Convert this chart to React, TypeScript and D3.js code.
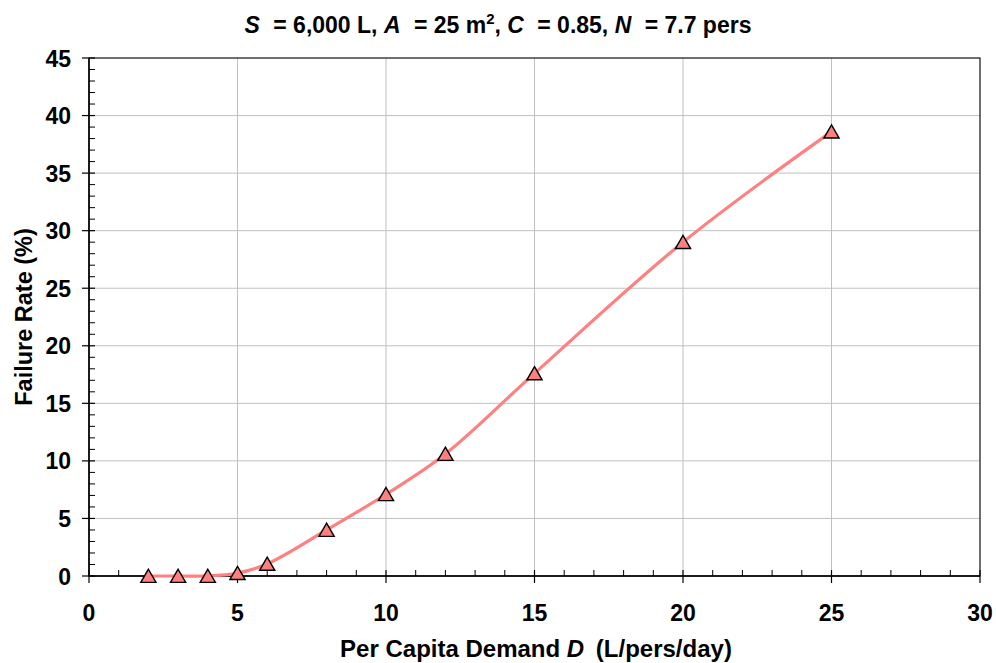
import React from "react";
import * as d3 from "d3";

const demand = [2, 3, 4, 5, 6, 8, 10, 12, 15, 20, 25];
const failureRate = [0, 0, 0, 0.25, 1.05, 4.0, 7.1, 10.6, 17.6, 29.0, 38.6];
const xTicks = [0, 5, 10, 15, 20, 25, 30];
const yTicks = [0, 5, 10, 15, 20, 25, 30, 35, 40, 45];

const W = 996, H = 663;
const M = { left: 89, right: 980, top: 58, bottom: 576 };
const FONT = "'Liberation Sans', Arial, sans-serif";

export default function App() {
  const x = d3.scaleLinear().domain([0, 30]).range([M.left, M.right]);
  const y = d3.scaleLinear().domain([0, 45]).range([M.bottom, M.top]);
  const line = d3.line<number>()
    .x((_, i) => x(demand[i]))
    .y((d) => y(d))
    .curve(d3.curveCatmullRom.alpha(0.5));
  const xMinor = d3.range(0, 31, 1).filter((v) => v % 5 !== 0);
  const yMinor = d3.range(0, 46, 1).filter((v) => v % 5 !== 0);
  const tri = d3.symbol().type(d3.symbolTriangle).size(100)();

  return (
    <div style={{ position: "absolute", left: 0, top: 0 }}>
      <svg width={W} height={H} style={{ display: "block", background: "#fff" }} fontFamily={FONT}>
        {xTicks.map((t) => (
          <line key={"gx" + t} x1={x(t)} x2={x(t)} y1={M.top} y2={M.bottom} stroke="#c0c0c0" strokeWidth={1} />
        ))}
        {yTicks.map((t) => (
          <line key={"gy" + t} x1={M.left} x2={M.right} y1={y(t)} y2={y(t)} stroke="#c0c0c0" strokeWidth={1} />
        ))}
        <rect x={M.left} y={M.top} width={M.right - M.left} height={M.bottom - M.top} fill="none" stroke="#000" strokeWidth={1} />
        {/* x axis */}
        <line x1={M.left} x2={M.right} y1={M.bottom} y2={M.bottom} stroke="#000" strokeWidth={1.5} />
        {xTicks.map((t) => (
          <line key={"xt" + t} x1={x(t)} x2={x(t)} y1={M.bottom - 6} y2={M.bottom + 7} stroke="#000" strokeWidth={1.2} />
        ))}
        {xMinor.map((t) => (
          <line key={"xm" + t} x1={x(t)} x2={x(t)} y1={M.bottom - 6} y2={M.bottom} stroke="#000" strokeWidth={1} />
        ))}
        {xTicks.map((t) => (
          <text key={"xl" + t} x={x(t)} y={621} textAnchor="middle" fontSize={23} fontWeight="bold">{t}</text>
        ))}
        {/* y axis */}
        <line x1={M.left} x2={M.left} y1={M.top} y2={M.bottom} stroke="#000" strokeWidth={1.5} />
        {yTicks.map((t) => (
          <line key={"yt" + t} x1={M.left - 7} x2={M.left + 6} y1={y(t)} y2={y(t)} stroke="#000" strokeWidth={1.2} />
        ))}
        {yMinor.map((t) => (
          <line key={"ym" + t} x1={M.left} x2={M.left + 6} y1={y(t)} y2={y(t)} stroke="#000" strokeWidth={1} />
        ))}
        {yTicks.map((t) => (
          <text key={"yl" + t} x={71} y={y(t) + 8.5} textAnchor="end" fontSize={23} fontWeight="bold">{t}</text>
        ))}
        {/* series */}
        <path d={line(failureRate) || ""} fill="none" stroke="#ff8080" strokeWidth={3.2} />
        {failureRate.map((v, i) => (
          <path key={"p" + i} d={tri || ""} transform={`translate(${x(demand[i])},${y(v) + 2})`} fill="#ff8080" stroke="#000" strokeWidth={1.4} />
        ))}
        {/* titles */}
        <text x={498} y={33} textAnchor="middle" fontSize={23} fontWeight="bold">
          <tspan fontStyle="italic">S</tspan>
          <tspan dx={7}>{" = 6,000 L, "}</tspan>
          <tspan fontStyle="italic">A</tspan>
          <tspan dx={7}>{" = 25 m"}</tspan>
          <tspan dy={-9} fontSize={15}>2</tspan>
          <tspan dy={9}>{", "}</tspan>
          <tspan fontStyle="italic">C</tspan>
          <tspan dx={7}>{" = 0.85, "}</tspan>
          <tspan fontStyle="italic">N</tspan>
          <tspan dx={7}>{" = 7.7 pers"}</tspan>
        </text>
        <text x={536} y={657} textAnchor="middle" fontSize={24} fontWeight="bold">
          <tspan>{"Per Capita Demand "}</tspan>
          <tspan fontStyle="italic">D</tspan>
          <tspan dx={5}>{" (L/pers/day)"}</tspan>
        </text>
        <text transform={`translate(32,${317}) rotate(-90)`} textAnchor="middle" fontSize={23.5} fontWeight="bold">
          Failure Rate (%)
        </text>
      </svg>
    </div>
  );
}
